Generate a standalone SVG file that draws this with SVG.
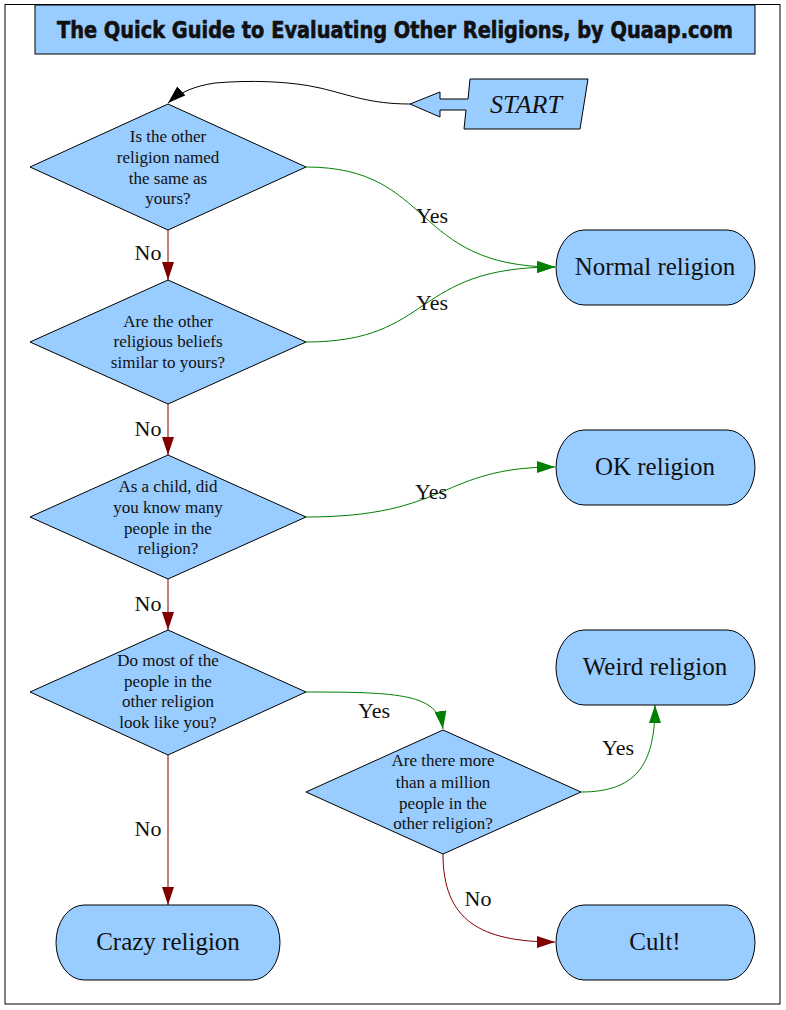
<svg xmlns="http://www.w3.org/2000/svg" width="786" height="1010" viewBox="0 0 786 1010">
<style>
.shape{fill:#99ccff;stroke:#000;stroke-width:1}
.g{fill:none;stroke:#008000;stroke-width:1}
.r{fill:none;stroke:#800000;stroke-width:1}
.k{fill:none;stroke:#000;stroke-width:1}
</style>
<defs>
<marker id="ag" markerUnits="userSpaceOnUse" markerWidth="18" markerHeight="12" refX="18" refY="6" orient="auto"><path d="M0,0 L18,6 L0,12 z" fill="#008000"/></marker>
<marker id="ar" markerUnits="userSpaceOnUse" markerWidth="18" markerHeight="12" refX="18" refY="6" orient="auto"><path d="M0,0 L18,6 L0,12 z" fill="#800000"/></marker>
<marker id="ak" markerUnits="userSpaceOnUse" markerWidth="18" markerHeight="12" refX="18" refY="6" orient="auto"><path d="M0,0 L18,6 L0,12 z" fill="#000"/></marker>
</defs>
<rect x="0" y="0" width="786" height="1010" fill="#fff"/>
<rect x="5" y="4.5" width="775" height="999.5" fill="none" stroke="#000" stroke-width="1"/>
<g id="title">
<rect class="shape" x="35" y="5" width="720" height="49"/>
<text x="395" y="38" font-family="DejaVu Sans Condensed, DejaVu Sans, sans-serif" font-weight="bold" font-size="23" fill="#111" stroke="#111" stroke-width="0.6" text-anchor="middle" textLength="676" lengthAdjust="spacingAndGlyphs">The Quick Guide to Evaluating Other Religions, by Quaap.com</text>
</g>
<g id="connectors">
<path class="k" d="M410,104 C370,104 350,95 320,88 C290,81 250,80 215,83 C195,86 180,92 168,103" marker-end="url(#ak)"/>
<path class="g" d="M306,167 C435,167 410,267 555,267" marker-end="url(#ag)"/>
<path class="g" d="M306,342 C435,342 410,267 555,267" marker-end="url(#ag)"/>
<path class="g" d="M306,517 C450,517 440,467 555,467" marker-end="url(#ag)"/>
<path class="g" d="M306,692 C400,692 438,694 443,729" marker-end="url(#ag)"/>
<path class="g" d="M581,792 C640,792 655,760 655,705" marker-end="url(#ag)"/>
<path class="r" d="M168,230 L168,280" marker-end="url(#ar)"/>
<path class="r" d="M168,404 L168,455" marker-end="url(#ar)"/>
<path class="r" d="M168,579 L168,630" marker-end="url(#ar)"/>
<path class="r" d="M168,755 L168,905" marker-end="url(#ar)"/>
<path class="r" d="M443,854 C443,920 480,942 555,942" marker-end="url(#ar)"/>
<g font-family="Liberation Serif, Times New Roman, serif" font-size="22" fill="#111" text-anchor="middle">
<text x="432" y="223">Yes</text>
<text x="432" y="310">Yes</text>
<text x="431" y="499">Yes</text>
<text x="374" y="718">Yes</text>
<text x="618" y="755">Yes</text>
<text x="148" y="260">No</text>
<text x="148" y="436">No</text>
<text x="148" y="611">No</text>
<text x="148" y="836">No</text>
<text x="478" y="906">No</text>
</g>
</g>
<g font-family="Liberation Serif, Times New Roman, serif" fill="#111" text-anchor="middle">
<g id="start">
<path class="shape" d="M410,104 L440,92 L440,99 L468,99 L470,79 L588,79 L580,129 L464,129 L466,110 L440,110 L440,117 Z"/>
<text x="526" y="113" font-size="26" font-style="italic">START</text>
</g>
<g id="q1" font-size="17">
<polygon class="shape" points="168,104 306,167 168,230 30,167"/>
<text x="168" y="142">Is the other</text>
<text x="168" y="163">religion named</text>
<text x="168" y="184">the same as</text>
<text x="168" y="204">yours?</text>
</g>
<g id="q2" font-size="17">
<polygon class="shape" points="168,280 306,342 168,404 30,342"/>
<text x="168" y="327">Are the other</text>
<text x="168" y="347">religious beliefs</text>
<text x="168" y="368">similar to yours?</text>
</g>
<g id="q3" font-size="17">
<polygon class="shape" points="168,455 306,517 168,579 30,517"/>
<text x="168" y="492">As a child, did</text>
<text x="168" y="513">you know many</text>
<text x="168" y="534">people in the</text>
<text x="168" y="554">religion?</text>
</g>
<g id="q4" font-size="17">
<polygon class="shape" points="168,630 306,692 168,755 30,692"/>
<text x="168" y="666">Do most of the</text>
<text x="168" y="687">people in the</text>
<text x="168" y="707">other religion</text>
<text x="168" y="728">look like you?</text>
</g>
<g id="q5" font-size="17">
<polygon class="shape" points="443,730 581,792 443,854 306,792"/>
<text x="443" y="766">Are there more</text>
<text x="443" y="788">than a million</text>
<text x="443" y="809">people in the</text>
<text x="443" y="829">other religion?</text>
</g>
<g id="normal" font-size="25">
<rect class="shape" x="556" y="230" width="199" height="75" rx="28" ry="37.5"/>
<text x="655" y="275">Normal religion</text>
</g>
<g id="ok" font-size="25">
<rect class="shape" x="556" y="430" width="199" height="75" rx="28" ry="37.5"/>
<text x="655" y="475">OK religion</text>
</g>
<g id="weird" font-size="25">
<rect class="shape" x="556" y="630" width="199" height="75" rx="28" ry="37.5"/>
<text x="655" y="675">Weird religion</text>
</g>
<g id="crazy" font-size="25">
<rect class="shape" x="56" y="905" width="224" height="75" rx="28" ry="37.5"/>
<text x="168" y="950">Crazy religion</text>
</g>
<g id="cult" font-size="25">
<rect class="shape" x="556" y="905" width="199" height="75" rx="28" ry="37.5"/>
<text x="655" y="950">Cult!</text>
</g>
</g>
</svg>
